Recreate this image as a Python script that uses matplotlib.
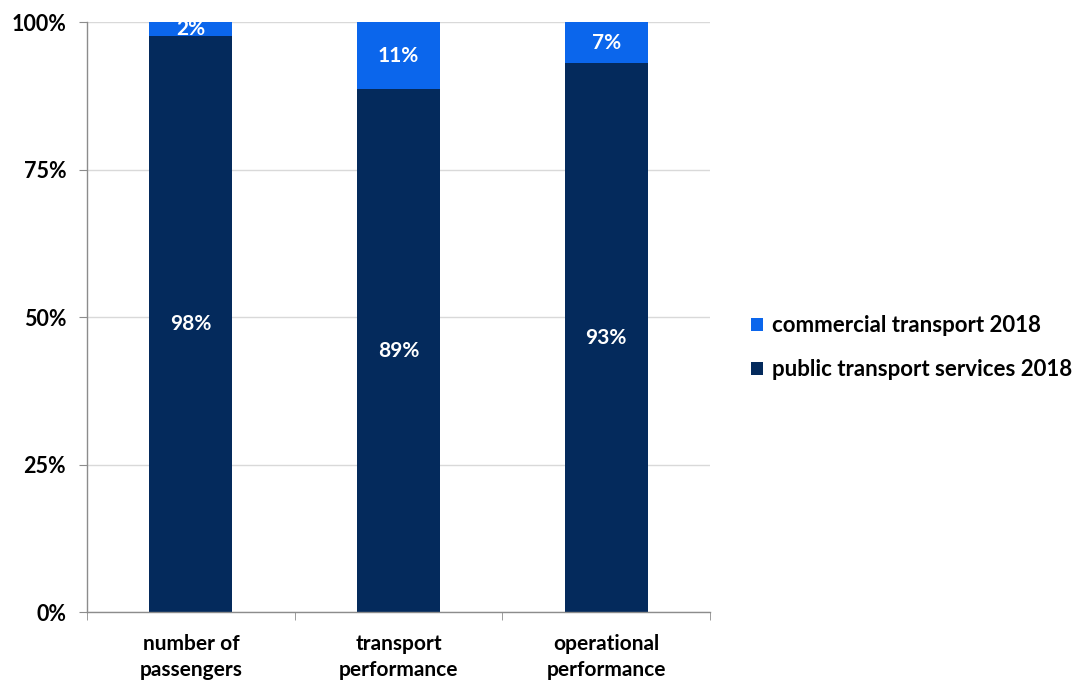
import numpy as np
import matplotlib.pyplot as plt
from matplotlib.ticker import FixedLocator

plt.rcParams['font.family'] = ['Lato', 'DejaVu Sans']
plt.rcParams['font.weight'] = 'bold'

categories = ['number of\npassengers', 'transport\nperformance', 'operational\nperformance']
public_share = [97.6, 88.6, 93.0]
commercial_share = [2.4, 11.4, 7.0]
public_labels = ['98%', '89%', '93%']
commercial_labels = ['2%', '11%', '7%']

dark = '#042a5c'
light = '#0b66ec'

fig = plt.figure(figsize=(10.72, 6.82), dpi=100)
ax = fig.add_axes([0.0812, 0.1026, 0.5811, 0.8651])

x = np.arange(len(categories))
b1 = ax.bar(x, public_share, width=0.40, color=dark, label='public transport services 2018', zorder=2)
b2 = ax.bar(x, commercial_share, width=0.40, bottom=public_share, color=light,
            label='commercial transport 2018', zorder=2)

for i in range(len(categories)):
    ax.text(x[i], public_share[i] / 2, public_labels[i], ha='center', va='center',
            color='white', fontsize=15, zorder=3)
    ax.text(x[i], public_share[i] + commercial_share[i] / 2, commercial_labels[i],
            ha='center', va='center', color='white', fontsize=15, zorder=3)

ax.set_xlim(-0.5, 2.5)
ax.set_ylim(0, 100)
ax.set_yticks([0, 25, 50, 75, 100])
ax.set_yticklabels(['0%', '25%', '50%', '75%', '100%'])
ax.yaxis.grid(True, color='#d9d9d9', linewidth=1, zorder=0)
ax.set_axisbelow(True)

ax.set_xticks(x)
ax.set_xticklabels(categories, linespacing=1.35)
ax.tick_params(axis='x', length=0, labelsize=15, pad=16)
ax.xaxis.set_minor_locator(FixedLocator([-0.5, 0.5, 1.5, 2.5]))
ax.tick_params(axis='x', which='minor', length=6, color='#8c8c8c', direction='out')
ax.tick_params(axis='y', length=6, color='#8c8c8c', labelsize=15.5, pad=9)

for s in ['top', 'right']:
    ax.spines[s].set_visible(False)
for s in ['left', 'bottom']:
    ax.spines[s].set_color('#8c8c8c')
    ax.spines[s].set_linewidth(1)

handles = [b2, b1]
fig.legend(handles, [h.get_label() for h in handles], loc='center left',
           bbox_to_anchor=(0.6815, 0.490), frameon=False, fontsize=16,
           handlelength=0.55, handleheight=0.55, handletextpad=0.4, labelspacing=1.05)

fig.savefig('out.png', dpi=100)
